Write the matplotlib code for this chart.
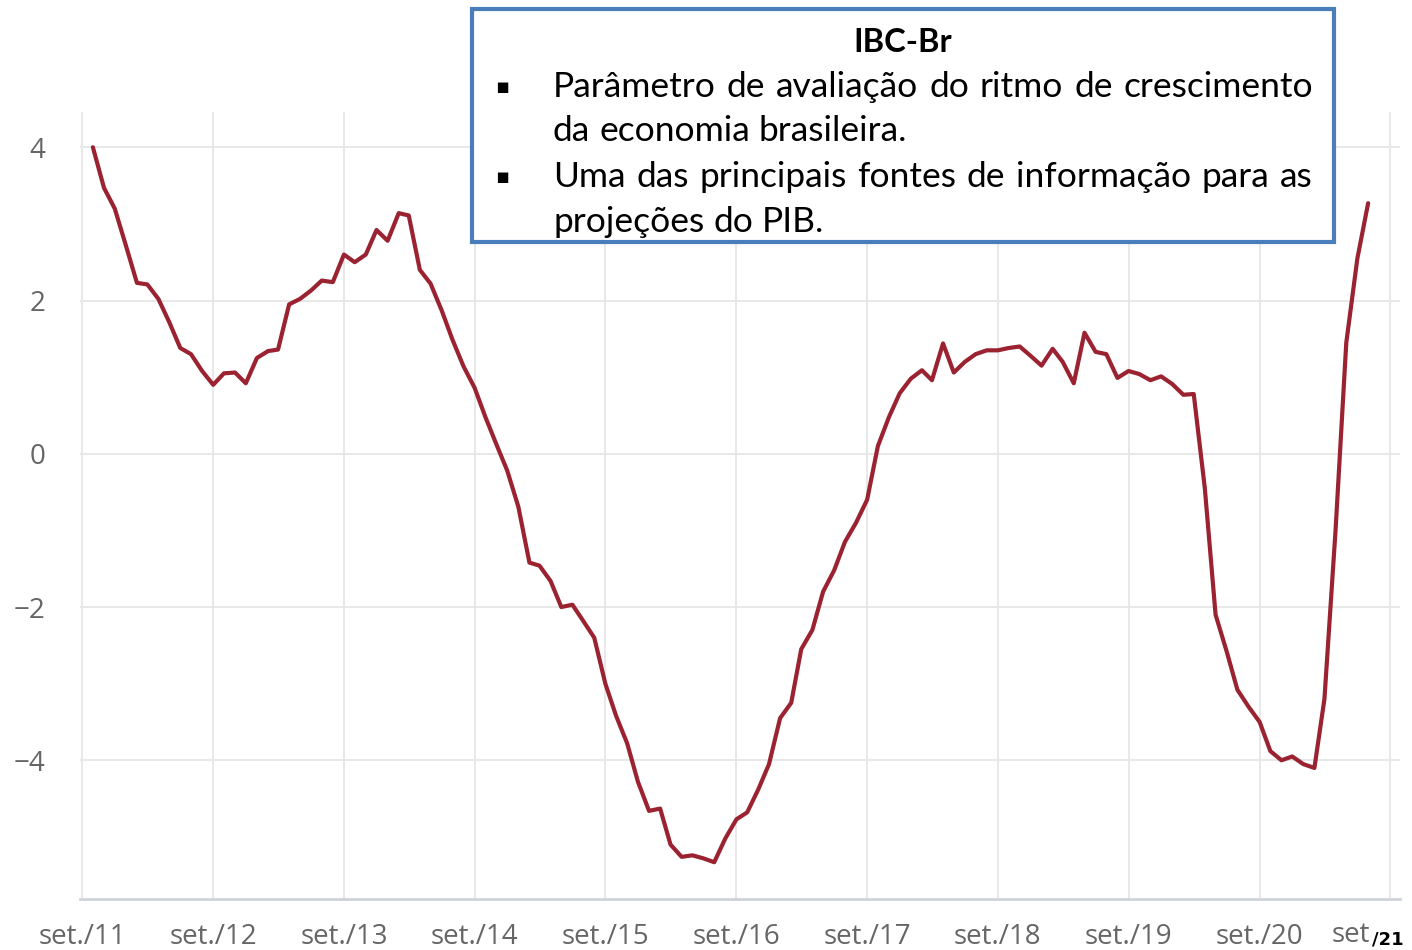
import numpy as np
import pandas as pd
import matplotlib
matplotlib.use("Agg")
import matplotlib.pyplot as plt
from matplotlib.patches import Rectangle

# IBC-Br, variação acumulada em 12 meses (%), out/2011 a jul/2021
datas = pd.date_range("2011-10-01", "2021-07-01", freq="MS")
ibc = [
    4.00, 3.47, 3.20, 2.72, 2.23, 2.21, 2.02, 1.72, 1.38, 1.30, 1.08, 0.90,   # out/11 - set/12
    1.05, 1.06, 0.92, 1.25, 1.34, 1.36, 1.95, 2.02, 2.13, 2.26, 2.24, 2.60,   # out/12 - set/13
    2.50, 2.60, 2.92, 2.78, 3.14, 3.11, 2.40, 2.22, 1.87, 1.49, 1.14, 0.86,   # out/13 - set/14
    0.48, 0.12, -0.22, -0.69, -1.42, -1.46, -1.66, -2.00, -1.97, -2.18, -2.40, -3.00,
    -3.42, -3.78, -4.28, -4.66, -4.63, -5.10, -5.26, -5.24, -5.28, -5.33, -5.02, -4.77,
    -4.68, -4.38, -4.05, -3.45, -3.25, -2.55, -2.30, -1.80, -1.52, -1.15, -0.90, -0.60,
    0.10, 0.48, 0.79, 0.98, 1.09, 0.96, 1.44, 1.06, 1.20, 1.30, 1.35, 1.35,
    1.38, 1.40, 1.28, 1.15, 1.37, 1.20, 0.92, 1.58, 1.33, 1.30, 0.99, 1.08,
    1.04, 0.96, 1.01, 0.91, 0.77, 0.78, -0.45, -2.10, -2.58, -3.08, -3.30, -3.50,
    -3.88, -4.00, -3.95, -4.05, -4.10, -3.20, -1.00, 1.45, 2.55, 3.27,
]
ticks = pd.date_range("2011-09-01", "2021-09-01", freq="12MS")
tick_labels = ["set./11", "set./12", "set./13", "set./14", "set./15",
               "set./16", "set./17", "set./18", "set./19", "set./20", ""]

titulo = "IBC-Br"
bullet1 = "Parâmetro de avaliação do ritmo de crescimento"
bullet1b = "da economia brasileira."
bullet2 = "Uma das principais fontes de informação para as"
bullet2b = "projeções do PIB."

W, H = 1412, 950
fig = plt.figure(figsize=(W / 100, H / 100), dpi=100)
ax = fig.add_axes([80 / W, 1 - 899 / H, 1320 / W, (899 - 112) / H])

ax.plot(datas, ibc, color="#9b2230", lw=3, solid_joinstyle="round",
        solid_capstyle="round", zorder=3)

ax.set_ylim(-5.81, 4.46)
ax.set_xlim(pd.Timestamp("2011-08-26"), pd.Timestamp("2021-09-28"))
ax.set_yticks([-4, -2, 0, 2, 4])
ax.set_yticklabels(["\u22124", "\u22122", "0", "2", "4"])
ax.set_xticks(ticks)
ax.set_xticklabels(tick_labels)
ax.grid(True, color="#e6e6e6", lw=1.3)
ax.set_axisbelow(True)
for s in ["top", "right", "left"]:
    ax.spines[s].set_visible(False)
ax.spines["bottom"].set_color("#cfd3d9")
ax.spines["bottom"].set_linewidth(2)
ax.tick_params(axis="both", length=0, labelsize=20, labelcolor="#666666")
ax.tick_params(axis="y", pad=25)
ax.tick_params(axis="x", pad=17)
for lab in ax.get_xticklabels() + ax.get_yticklabels():
    lab.set_family("Open Sans")
for lab in ax.get_yticklabels():
    lab.set_y(lab.get_position()[1])

# ultimo rotulo do eixo x (set/21)
fig.text(1332 / W, 1 - 935 / H, "set", color="#666666", fontsize=20,
         family="Open Sans", va="center")
fig.text(1372 / W, 1 - 939 / H, "/21", color="black", fontsize=13,
         fontweight="bold", va="center")

# caixa de texto
fig.patches.append(Rectangle((472 / W, 1 - 242 / H), (1334 - 472) / W, (242 - 9) / H,
                             transform=fig.transFigure, facecolor="white",
                             edgecolor="#4a7ebb", lw=3, zorder=5))
fs = 25.5
fig.text(903 / W, 1 - 42 / H, titulo, ha="center", va="center", fontsize=23.5,
         fontweight="bold", family="Lato", zorder=6)

renderer = fig.canvas.get_renderer()


def linha(texto, y, justificar):
    palavras = texto.split(" ")
    objs = [fig.text(0, 1 - y / H, p, fontsize=fs, family="Lato", va="center", zorder=6)
            for p in palavras]
    larg = [o.get_window_extent(renderer).width for o in objs]
    x0, x1 = 553, 1313
    if justificar:
        gap = (x1 - x0 - sum(larg)) / (len(objs) - 1)
    else:
        gap = fs * 0.35
    x = x0
    for o, w in zip(objs, larg):
        o.set_x(x / W)
        x += w + gap


for yb in [87, 177]:
    fig.text(502 / W, 1 - yb / H, "\u25aa", fontsize=15, family="DejaVu Sans",
             ha="center", va="center", zorder=6)
linha(bullet1, 87, True)
linha(bullet1b, 131, False)
linha(bullet2, 177, True)
linha(bullet2b, 222, False)

fig.savefig("out.png", dpi=100)
